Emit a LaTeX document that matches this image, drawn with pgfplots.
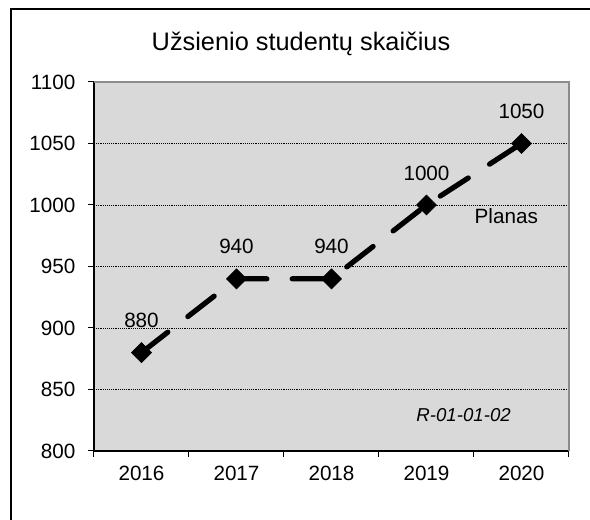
\documentclass[border=0pt]{standalone}
\usepackage{pgfplots}
\pgfplotsset{compat=1.18}
\usepackage{fontspec}
\setmainfont{Liberation Sans}
\definecolor{plotbg}{HTML}{D9D9D9}
\definecolor{framegray}{HTML}{8C8C8C}
\begin{document}
\begin{tikzpicture}[x=0.75pt,y=0.75pt]
% page = reference size in px (590 x 520), 1px = 0.75pt
\path[use as bounding box] (0,0) rectangle (590,520);
% chart frame (only top and left edge visible)
\draw[line width=1.5pt] (10.5,0) -- (10.5,511) -- (590,511);
\node[font=\fontsize{19}{22}\selectfont, anchor=base] at (301,469) {Užsienio studentų skaičius};

\begin{axis}[
    at={(70.5pt,51.75pt)},
    anchor=south west,
    scale only axis,
    width=356.25pt,
    height=276.75pt,
    xmin=-0.5, xmax=4.5,
    ymin=800, ymax=1100,
    ytick={800,850,...,1100},
    xtick={-0.5,0.5,...,4.5},
    xticklabels={},
    extra x ticks={0,1,2,3,4},
    extra x tick labels={2016,2017,2018,2019,2020},
    extra x tick style={major tick length=0pt, grid=none},
    tick align=outside,
    major tick length=4.5pt,
    tick style={black, line width=0.75pt},
    axis x line*=bottom,
    axis y line*=left,
    axis line style={black, line width=1.1pt, -},
    ymajorgrids,
    major grid style={black, densely dotted, line width=0.6pt},
    axis background/.style={fill=plotbg},
    tick label style={font=\fontsize{15.5}{18}\selectfont},
    yticklabel style={xshift=-6pt},
    xticklabel style={yshift=-8pt},
    /pgf/number format/1000 sep={},
    /pgf/number format/assume math mode=true,
    clip=false
]

% gray upper and right border of the plot area
\draw[framegray, line width=1.5pt] (rel axis cs:0,1) -- (rel axis cs:1,1) -- (rel axis cs:1,0);

\addplot[
    black,
    line width=3.9pt,
    line cap=round,
    dash pattern=on 25pt off 19pt,
    mark=square*,
    mark size=5.3pt,
    mark options={solid, rotate=45, fill=black, line width=0.5pt},
    nodes near coords,
    every node near coord/.append style={anchor=center, yshift=24pt, black,
        font=\fontsize{15.5}{18}\selectfont}
]
coordinates {
    (0,880)
    (1,940)
    (2,940)
    (3,1000)
    (4,1050)
};

\node[font=\fontsize{15.5}{18}\selectfont] at (axis cs:3.84,991) {Planas};
\node[font=\fontsize{14}{16}\selectfont\itshape, anchor=east, inner sep=0pt]
    at (axis cs:3.89,829) {R-01-01-02};
\end{axis}
\end{tikzpicture}
\end{document}
